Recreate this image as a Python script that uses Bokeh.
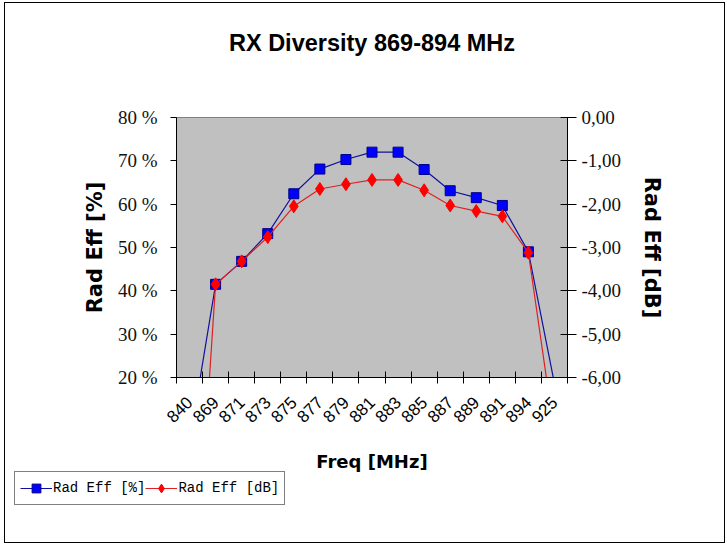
import math
from bokeh.plotting import figure
from bokeh.layouts import column
from bokeh.models import (FactorRange, Range1d, LinearAxis, CategoricalAxis, FixedTicker,
                          Legend, LegendItem, Title)
from bokeh.embed import file_html
from bokeh.resources import INLINE

title_text = "RX Diversity 869-894 MHz"
freq_labels = ["840", "869", "871", "873", "875", "877", "879", "881",
               "883", "885", "887", "889", "891", "894", "925"]
rad_eff_pct = [5.0, 41.5, 46.8, 53.2, 62.4, 68.1, 70.3, 72.0,
               72.0, 68.0, 63.1, 61.5, 59.7, 49.0, 18.6]
rad_eff_db = [-13.0, -3.85, -3.32, -2.76, -2.05, -1.65, -1.54, -1.44,
              -1.44, -1.68, -2.03, -2.16, -2.28, -3.12, -7.30]
pct_ticks = [20, 30, 40, 50, 60, 70, 80]
pct_tick_labels = ["20 %", "30 %", "40 %", "50 %", "60 %", "70 %", "80 %"]
db_ticks = [-6, -5, -4, -3, -2, -1, 0]
db_tick_labels = ["-6,00", "-5,00", "-4,00", "-3,00", "-2,00", "-1,00", "0,00"]
series_names = ["Rad Eff [%]", "Rad Eff [dB]"]

SANS = "Liberation Sans"
WIDE = "DejaVu Sans"
SERIF = "Liberation Serif"
BLUE_LINE, BLUE_FILL = "#1010A0", "#0000FF"
RED_LINE, RED_FILL = "#E02020", "#FF0000"

p = figure(width=719, height=472, title=None,
           x_range=FactorRange(factors=freq_labels),
           y_range=Range1d(pct_ticks[0], pct_ticks[-1]),
           output_backend="svg", toolbar_location=None,
           x_axis_location=None, y_axis_location=None,
           min_border_left=171, min_border_right=157,
           min_border_top=114, min_border_bottom=97,
           background_fill_color="#C0C0C0", border_fill_color="white",
           outline_line_color="#808080", outline_line_width=1)
p.grid.visible = False

# spacer between frame and title, then the title itself (stacked outward)
p.add_layout(Title(text=" ", text_font_size="10px", standoff=44), "above")
p.add_layout(Title(text=title_text, align="center", text_font=SANS, text_font_size="23.5px",
                   text_font_style="bold", text_color="black", standoff=10), "above")

p.extra_y_ranges = {"db": Range1d(db_ticks[0], db_ticks[-1])}

# tick marks on the category boundaries (synthetic coordinates 0..N of the factor range)
edge_axis = LinearAxis(ticker=FixedTicker(ticks=list(range(len(freq_labels) + 1))),
                       major_tick_in=6, major_tick_out=6,
                       minor_tick_in=0, minor_tick_out=0,
                       major_label_text_font_size="0px", major_label_standoff=0,
                       axis_line_color="black", major_tick_line_color="black")
p.add_layout(edge_axis, "below")

cat_axis = CategoricalAxis(major_tick_in=0, major_tick_out=0, axis_line_color=None,
                           major_label_orientation=math.pi / 4,
                           major_label_text_font=SANS, major_label_text_font_size="17px",
                           major_label_text_color="black", major_label_standoff=16,
                           axis_label="Freq [MHz]", axis_label_text_font=WIDE,
                           axis_label_text_font_size="18px", axis_label_text_font_style="bold",
                           axis_label_text_color="black", axis_label_standoff=20)
p.add_layout(cat_axis, "below")

left_axis = LinearAxis(ticker=FixedTicker(ticks=pct_ticks),
                       major_label_overrides=dict(zip(pct_ticks, pct_tick_labels)),
                       major_tick_in=0, major_tick_out=6, minor_tick_in=0, minor_tick_out=0,
                       major_label_text_font=SERIF, major_label_text_font_size="19px",
                       major_label_text_color="#111111", major_label_standoff=13,
                       axis_line_color="black", major_tick_line_color="black",
                       axis_label="Rad Eff [%]", axis_label_text_font=WIDE,
                       axis_label_text_font_size="21px", axis_label_text_font_style="bold",
                       axis_label_text_color="black", axis_label_standoff=8)
p.add_layout(left_axis, "left")

right_axis = LinearAxis(y_range_name="db", ticker=FixedTicker(ticks=db_ticks),
                        major_label_overrides=dict(zip(db_ticks, db_tick_labels)),
                        major_tick_in=7, major_tick_out=9, minor_tick_in=0, minor_tick_out=0,
                        major_label_text_font=SERIF, major_label_text_font_size="19px",
                        major_label_text_color="#111111", major_label_standoff=5,
                        axis_line_color="black", major_tick_line_color="black",
                        axis_label="Rad Eff [dB]", axis_label_text_font=WIDE,
                        axis_label_text_font_size="21px", axis_label_text_font_style="bold",
                        axis_label_text_color="black", axis_label_standoff=16)
p.add_layout(right_axis, "right")

p.line(freq_labels, rad_eff_pct, line_color=BLUE_LINE, line_width=1.2)
p.scatter(freq_labels, rad_eff_pct, marker="square", size=10,
          fill_color=BLUE_FILL, line_color="#00008B")
p.line(freq_labels, rad_eff_db, y_range_name="db", line_color=RED_LINE, line_width=1.2)
p.scatter(freq_labels, rad_eff_db, y_range_name="db", marker="diamond", size=13,
          fill_color=RED_FILL, line_color=RED_FILL)

# legend strip under the chart (same series, drawn outside its visible range)
lf = figure(width=719, height=67, x_range=FactorRange(factors=freq_labels),
            y_range=Range1d(1000, 1001), output_backend="svg", toolbar_location=None,
            x_axis_location=None, y_axis_location=None, min_border=0,
            outline_line_color=None, background_fill_alpha=0, border_fill_alpha=0)
lf.grid.visible = False
lf.styles = {"transform": "translate(-163px, -5px)"}
lbl = lf.line(freq_labels, rad_eff_pct, line_color=BLUE_LINE, line_width=1.2)
lbs = lf.scatter(freq_labels, rad_eff_pct, marker="square", size=10,
                 fill_color=BLUE_FILL, line_color="#00008B")
lrl = lf.line(freq_labels, rad_eff_db, line_color=RED_LINE, line_width=1.2)
lrs = lf.scatter(freq_labels, rad_eff_db, marker="diamond", size=13,
                 fill_color=RED_FILL, line_color=RED_FILL)
legend = Legend(items=[LegendItem(label=series_names[0], renderers=[lbl, lbs]),
                       LegendItem(label=series_names[1], renderers=[lrl, lrs])],
                orientation="horizontal", location=(1, 32),
                border_line_color="black", border_line_width=1,
                background_fill_color="white", background_fill_alpha=1,
                label_text_font="Liberation Mono", label_text_font_size="14px",
                label_text_color="black",
                glyph_width=32, glyph_height=22, label_height=22, label_standoff=1,
                spacing=0, padding=5, margin=0)
lf.add_layout(legend, "center")

layout = column(p, lf, spacing=0,
                styles={"border": "1px solid black", "margin-left": "4px", "margin-top": "2px"})

open("out.html", "w").write(file_html(layout, INLINE))
